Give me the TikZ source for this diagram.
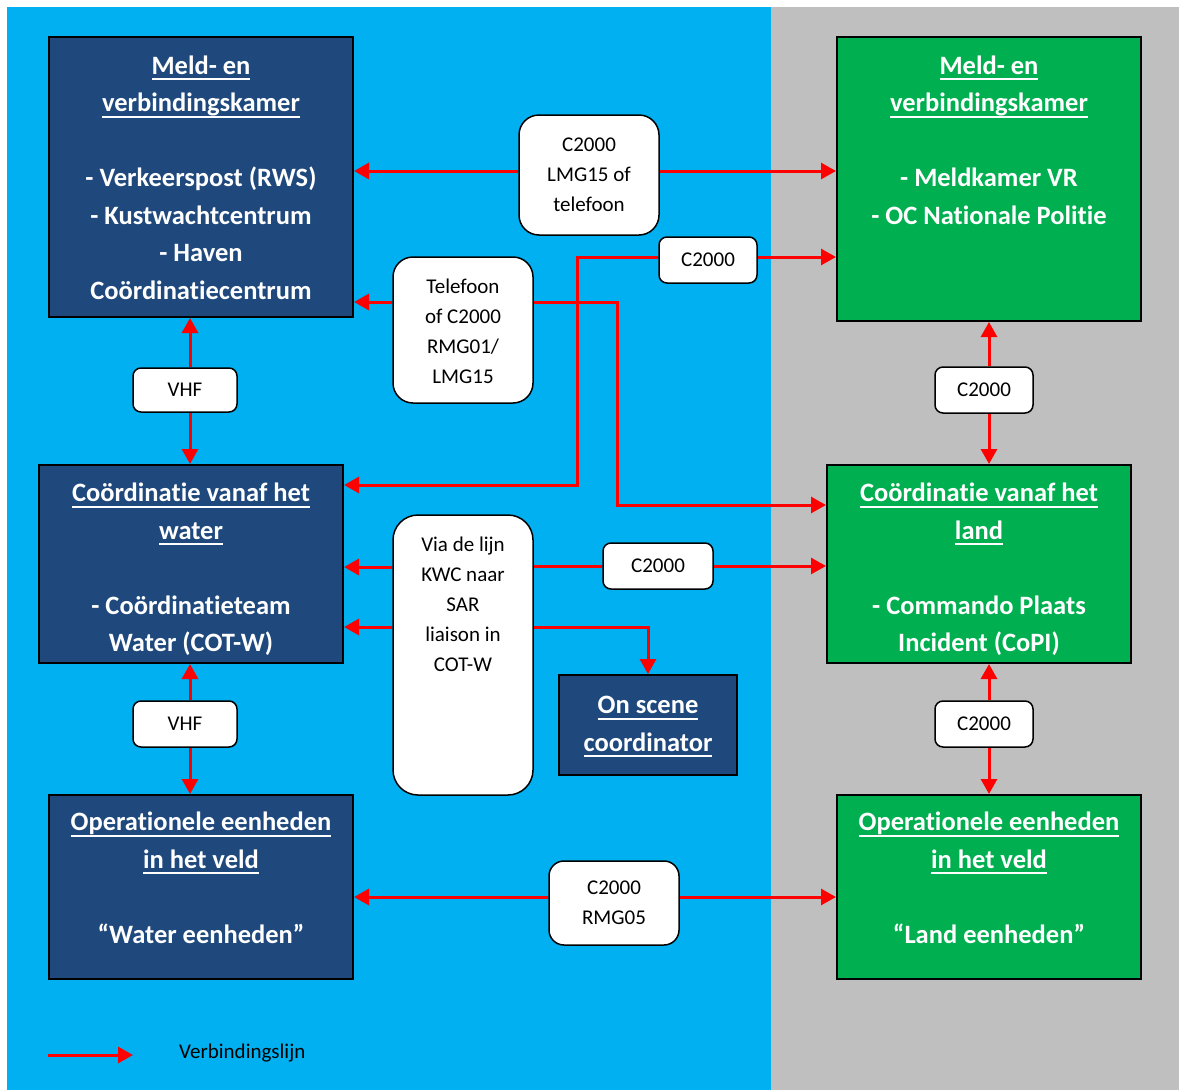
\documentclass[tikz,border=0pt]{standalone}
\usepackage{fontspec}
\setmainfont{Carlito}[Ligatures=NoCommon]
\usetikzlibrary{arrows.meta}

\definecolor{seablue}{HTML}{00B0F0}
\definecolor{landgray}{HTML}{BFBFBF}
\definecolor{waterblue}{HTML}{1F497D}
\definecolor{landgreen}{HTML}{00B050}

\newcommand{\headul}[1]{\setbox0=\hbox{#1}\rlap{\rule[-6pt]{\wd0}{2pt}}\box0}

\tikzset{
  water/.style={rectangle, draw=black, line width=2pt, fill=waterblue, text=white, align=center, inner sep=0pt, minimum width=304pt, font=\fontsize{26.5}{37.5}\selectfont\bfseries},
  land/.style={water, fill=landgreen},
  channel/.style={rectangle, draw=black, line width=1.5pt, fill=white, rounded corners=8pt, align=center, inner sep=0pt, font=\fontsize{21}{30}\selectfont},
  link/.style={draw=red, line width=3pt, -{Triangle[length=15pt,width=16pt]}},
}

\begin{document}
\begin{tikzpicture}[x=1pt,y=-1pt]
		\useasboundingbox (0,0) rectangle (1179,1090);
		\fill[white] (0,0) rectangle (1179,1090);
		\fill[seablue] (7,7) rectangle (771,1090);
		\fill[landgray] (771,7) rectangle (1179,1090);
		
		% water side
		\node[water, minimum height=280pt] (meldW) at (201,177) {\strut\headul{Meld- en}\\\headul{verbindingskamer}\\[37.5pt]- Verkeerspost (RWS)\\- Kustwachtcentrum\\- Haven\\Coördinatiecentrum\\[-41.5pt]\strut};
		\node[water, minimum height=198pt] (coordW) at (191,564) {\strut\headul{Coördinatie vanaf het}\\\headul{water}\\[37.5pt]- Coördinatieteam\\Water (COT-W)\\[-47.5pt]\strut};
		\node[water, minimum height=184pt] (opsW) at (201,887) {\strut\headul{Operationele eenheden}\\\headul{in het veld}\\[37.5pt]“Water eenheden”\\[-22.5pt]\strut};
		\node[water, minimum width=178pt, minimum height=100pt] (osc) at (648,725) {\strut\headul{On scene}\\\headul{coordinator}\strut};
		
		% land side
		\node[land, minimum height=284pt] (meldL) at (989,179) {\strut\headul{Meld- en}\\\headul{verbindingskamer}\\[37.5pt]- Meldkamer VR\\- OC Nationale Politie\\[37.5pt]\strut};
		\node[land, minimum height=198pt] (coordL) at (979,564) {\strut\headul{Coördinatie vanaf het}\\\headul{land}\\[37.5pt]- Commando Plaats\\Incident (CoPI)\\[-47.5pt]\strut};
		\node[land, minimum height=184pt] (opsL) at (989,887) {\strut\headul{Operationele eenheden}\\\headul{in het veld}\\[37.5pt]“Land eenheden”\\[-22.5pt]\strut};
		
		% means of connection
		\node[channel, rounded corners=20pt, minimum width=140pt, minimum height=120pt] (lblLMG) at (589,175) {\strut C2000\\LMG15 of\\telefoon\strut};
		\node[channel, minimum width=98pt, minimum height=46pt] (lblTop) at (708,260) {C2000};
		\node[channel, rounded corners=20pt, minimum width=140pt, minimum height=146pt] (lblTel) at (463,330) {\strut Telefoon\\of C2000\\RMG01/\\LMG15\\[-34pt]\strut};
		\node[channel, minimum width=104pt, minimum height=44pt] (vhfA) at (185,390) {VHF};
		\node[channel, minimum width=98pt, minimum height=46pt] (cA) at (984,390) {C2000};
		\node[channel, rounded corners=25pt, minimum width=140pt, minimum height=280pt] (lblKWC) at (463,655) {\strut Via de lijn\\KWC naar\\SAR\\liaison in\\COT-W\\[70pt]\strut};
		\node[channel, minimum width=110pt, minimum height=46pt] (lblMid) at (658,566) {C2000};
		\node[channel, minimum width=104pt, minimum height=46pt] (vhfB) at (185,724) {VHF};
		\node[channel, minimum width=98pt, minimum height=46pt] (cB) at (984,724) {C2000};
		\node[channel, rounded corners=15pt, minimum width=130pt, minimum height=84pt] (lblRMG) at (614,903) {\strut C2000\\RMG05\strut};
		
		\coordinate (bendT) at (577,485);
		\coordinate (bendF) at (617,505);
		
		\draw[link] ([yshift=4pt]lblLMG.west) -- ([yshift=4pt]lblLMG.west -| meldW.east);
		\draw[link] ([yshift=4pt]lblLMG.east) -- ([yshift=4pt]lblLMG.east -| meldL.west);
		\draw[link] ([yshift=3pt]lblTop.east) -- ([yshift=3pt]lblTop.east -| meldL.west);
		\draw[link] ([yshift=3pt]lblTop.west) -| (bendT) -- (bendT -| coordW.east);
		\draw[link] ([yshift=28pt]lblTel.west) -- ([yshift=28pt]lblTel.west -| meldW.east);
		\draw[link] ([yshift=28pt]lblTel.east) -| (bendF) -- (bendF -| coordL.west);
		
		\draw[link] ([xshift=5pt]vhfA.north) -- ([xshift=5pt]vhfA.north |- meldW.south);
		\draw[link] ([xshift=5pt]vhfA.south) -- ([xshift=5pt]vhfA.south |- coordW.north);
		\draw[link] ([xshift=5pt]cA.north) -- ([xshift=5pt]cA.north |- meldL.south);
		\draw[link] ([xshift=5pt]cA.south) -- ([xshift=5pt]cA.south |- coordL.north);
		
		\draw[link] ([yshift=88pt]lblKWC.west) -- ([yshift=88pt]lblKWC.west -| coordW.east);
		\draw[link] ([yshift=28pt]lblKWC.west) -- ([yshift=28pt]lblKWC.west -| coordW.east);
		\draw[red, line width=3pt] (lblMid.west -| lblKWC.east) -- (lblMid.west);
		\draw[link] (lblMid.east) -- (lblMid.east -| coordL.west);
		\draw[link] ([yshift=28pt]lblKWC.east) -| (osc.north);
		
		\draw[link] ([xshift=5pt]vhfB.north) -- ([xshift=5pt]vhfB.north |- coordW.south);
		\draw[link] ([xshift=5pt]vhfB.south) -- ([xshift=5pt]vhfB.south |- opsW.north);
		\draw[link] ([xshift=5pt]cB.north) -- ([xshift=5pt]cB.north |- coordL.south);
		\draw[link] ([xshift=5pt]cB.south) -- ([xshift=5pt]cB.south |- opsL.north);
		
		\draw[link] ([yshift=6pt]lblRMG.west) -- ([yshift=6pt]lblRMG.west -| opsW.east);
		\draw[link] ([yshift=6pt]lblRMG.east) -- ([yshift=6pt]lblRMG.east -| opsL.west);
		
		% legend
		\coordinate (legA) at (48,1055);
		\coordinate (legB) at (133,1055);
		\draw[link] (legA) -- (legB);
		\node[font=\fontsize{21}{30}\selectfont, anchor=west, inner sep=0pt] (legtxt) at (179,1053) {Verbindingslijn};
		
	\end{tikzpicture}
\end{document}
